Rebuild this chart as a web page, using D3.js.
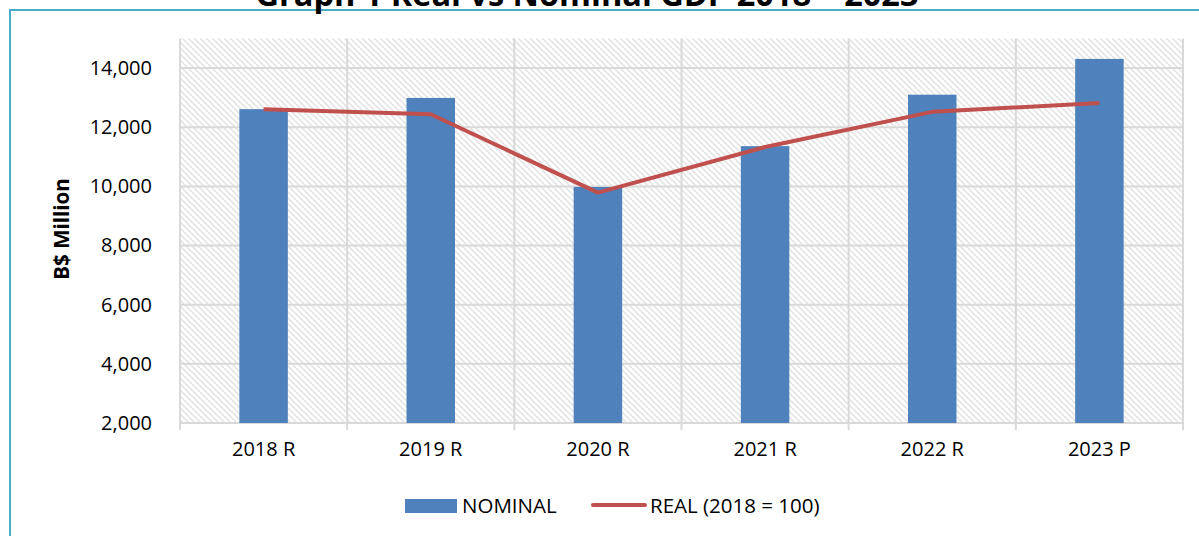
<!DOCTYPE html>
<html>
<head>
<meta charset="utf-8">
<script src="https://cdn.jsdelivr.net/npm/d3@7"></script>
<style>
body{margin:0;background:#fff;}
text{font-family:"Open Sans",sans-serif;fill:#000;}
</style>
</head>
<body>
<div id="chart"></div>
<script>
// data
let years=["2018 R","2019 R","2020 R","2021 R","2022 R","2023 P"];
let nominal=[12610,12990,9980,11360,13100,14310];
let real=[12610,12440,9790,11330,12520,12820];
let yTicks=[2000,4000,6000,8000,10000,12000,14000];

let width=1199, height=536;
let plotLeft=180, plotRight=1183, plotTop=38.5, plotBottom=423;

let svg=d3.select("#chart").append("svg")
.attr("width",width).attr("height",height);

// hatch fill for the plot area
let defs=svg.append("defs");
let pat=defs.append("pattern")
.attr("id","hatch").attr("patternUnits","userSpaceOnUse")
.attr("width",6).attr("height",6);
pat.append("rect").attr("width",6).attr("height",6).attr("fill","#fff");
pat.append("path").attr("d","M-1,-1 L7,7 M-1,5 L1,7 M5,-1 L7,1")
.attr("stroke","#e2e2e2").attr("stroke-width",1.5);

// outer frame (blue border)
svg.append("rect").attr("x",10).attr("y",10).attr("width",1210).attr("height",560)
.attr("fill","none").attr("stroke","#4bacc6").attr("stroke-width",2);

// title, cut off at the top like the original
svg.append("text").text("Graph 1 Real vs Nominal GDP 2018 \u2013 2023")
.attr("x",587).attr("y",6).attr("text-anchor","middle")
.style("font-weight","bold").style("font-size","32.5px");

let x=d3.scaleBand().domain(years).range([plotLeft,plotRight]).padding(0);
let y=d3.scaleLinear().domain([2000,15000]).range([plotBottom,plotTop]);

svg.append("rect").attr("x",plotLeft).attr("y",plotTop).attr("width",plotRight-plotLeft).attr("height",plotBottom-plotTop)
.attr("fill","url(#hatch)");

// horizontal grid
svg.append("g").selectAll("line").data(yTicks).enter().append("line")
.attr("x1",plotLeft).attr("x2",plotRight)
.attr("y1",d=>y(d)).attr("y2",d=>y(d))
.attr("stroke","#d9d9d9").attr("stroke-width",2);

// vertical grid at category edges
let edges=years.map(d=>x(d)).concat([plotRight]);
svg.append("g").selectAll("line").data(edges).enter().append("line")
.attr("x1",d=>d).attr("x2",d=>d)
.attr("y1",plotTop).attr("y2",plotBottom+7)
.attr("stroke","#d9d9d9").attr("stroke-width",2);

// bars
let barW=x.bandwidth()*0.29;
svg.append("g").selectAll("rect").data(nominal).enter().append("rect")
.attr("x",(d,i)=>x(years[i])+x.bandwidth()/2-barW/2)
.attr("y",d=>y(d))
.attr("width",barW)
.attr("height",d=>plotBottom-y(d))
.attr("fill","#4f81bd");

// real line
let line=d3.line()
.x((d,i)=>x(years[i])+x.bandwidth()/2)
.y(d=>y(d));
svg.append("path").datum(real).attr("d",line)
.attr("fill","none").attr("stroke","#c0504d").attr("stroke-width",4)
.attr("stroke-linejoin","round");

// y axis
let yAxis=d3.axisLeft(y).tickValues(yTicks).tickSize(0).tickPadding(28)
.tickFormat(d3.format(","));
let gy=svg.append("g").attr("transform","translate("+plotLeft+",0)").call(yAxis);
gy.select(".domain").remove();
gy.selectAll("text").style("font-size","20px").style("font-family","Open Sans").attr("fill","#000");

// x axis
let xAxis=d3.axisBottom(x).tickSize(0).tickPadding(19);
let gx=svg.append("g").attr("transform","translate(0,"+plotBottom+")").call(xAxis);
gx.select(".domain").remove();
gx.selectAll("text").style("font-size","20px").style("font-family","Open Sans").attr("fill","#000");

// y axis title
svg.append("text").text("B$ Million")
.attr("text-anchor","middle")
.attr("transform","translate(69,229) rotate(-90)")
.style("font-weight","bold").style("font-size","20.5px");

// legend
svg.append("rect").attr("x",405).attr("y",499).attr("width",52).attr("height",14).attr("fill","#4f81bd");
svg.append("text").text("NOMINAL").attr("x",462).attr("y",513).style("font-size","20.5px");
svg.append("line").attr("x1",593).attr("x2",645).attr("y1",505).attr("y2",505)
.attr("stroke","#c0504d").attr("stroke-width",4).attr("stroke-linecap","round");
svg.append("text").text("REAL (2018 = 100)").attr("x",650).attr("y",513).style("font-size","20.5px");
</script>
</body>
</html>
